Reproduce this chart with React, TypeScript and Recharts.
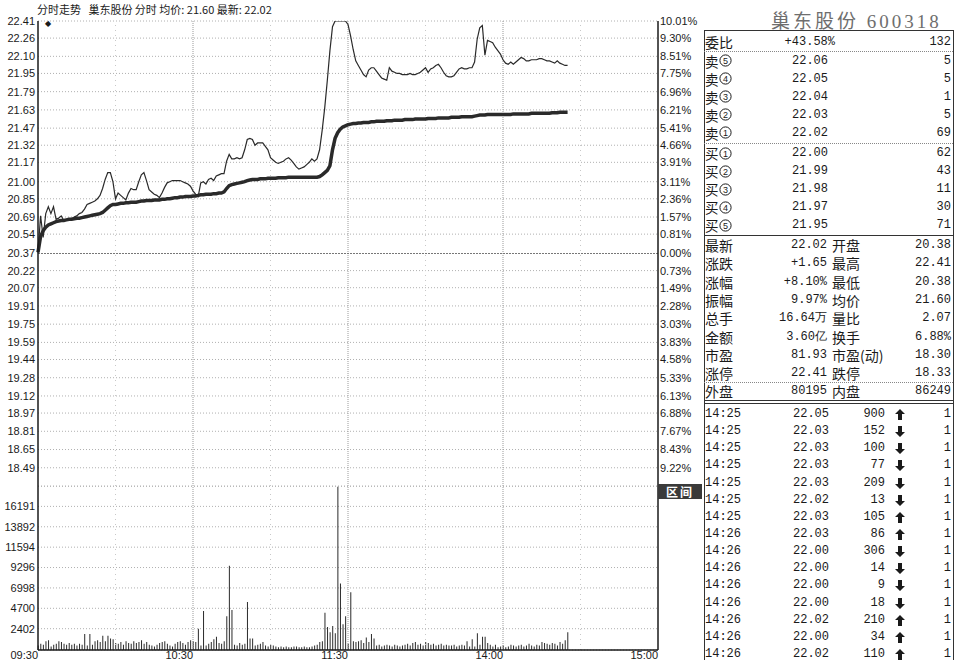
import React from "react";
import {
  ComposedChart,
  Line,
  Bar,
  XAxis,
  YAxis,
  CartesianGrid,
  ReferenceLine,
} from "recharts";

// price axis (left) and the matching percent labels (right)
const priceTicks = [
  22.41, 22.26, 22.1, 21.95, 21.79, 21.63, 21.47, 21.32, 21.17, 21.0, 20.85,
  20.69, 20.54, 20.37, 20.22, 20.07, 19.91, 19.75, 19.59, 19.44, 19.28, 19.12,
  18.97, 18.81, 18.65, 18.49,
];
const pctLabels = [
  "10.01%", "9.30%", "8.51%", "7.75%", "6.96%", "6.21%", "5.41%", "4.66%",
  "3.91%", "3.11%", "2.36%", "1.57%", "0.81%", "0.00%", "0.73%", "1.49%",
  "2.28%", "3.03%", "3.83%", "4.58%", "5.33%", "6.13%", "6.88%", "7.67%",
  "8.43%", "9.22%",
];
const volTicks = [2402, 4700, 6998, 9296, 11594, 13892, 16191];
const timeTicks = [0, 60, 120, 180, 240];
const timeLabels = ["09:30", "10:30", "11:30", "14:00", "15:00"];
const minorTimes = [30, 90, 150, 210];
const majorTimes = [60, 120, 180];

// one value per minute from 09:30
const price = [
  20.38, 20.70, 20.51, 20.72, 20.78, 20.72, 20.78, 20.67, 20.68, 20.70,
  20.66, 20.66, 20.66, 20.67, 20.69, 20.70, 20.72, 20.73, 20.76, 20.80,
  20.81, 20.82, 20.83, 20.85, 20.88, 20.94, 21.02, 21.08, 21.08, 21.00,
  20.85, 20.90, 20.88, 20.86, 20.84, 20.90, 20.94, 20.93, 20.93, 21.00,
  21.06, 21.08, 21.01, 20.93, 20.91, 20.89, 20.88, 20.86, 20.90, 20.95,
  20.99, 21.00, 21.01, 21.01, 21.01, 21.01, 21.00, 20.99, 20.98, 20.96,
  20.92, 20.89, 20.87, 20.99, 21.00, 20.98, 21.02, 21.03, 21.01, 21.05,
  21.06, 21.07, 21.07, 21.18, 21.24, 21.20, 21.20, 21.21, 21.20, 21.21,
  21.28, 21.37, 21.38, 21.37, 21.32, 21.34, 21.34, 21.34, 21.31, 21.28,
  21.21, 21.19, 21.17, 21.16, 21.17, 21.18, 21.20, 21.21, 21.19, 21.16,
  21.13, 21.11, 21.12, 21.13, 21.15, 21.17, 21.20, 21.18, 21.20, 21.28,
  21.45, 21.65, 21.89, 22.15, 22.36, 22.41, 22.41, 22.41, 22.41, 22.41,
  22.38, 22.28, 22.16, 22.06, 22.02, 21.98, 21.94, 21.92, 21.98, 22.00,
  22.00, 21.97, 21.94, 21.91, 21.90, 21.89, 22.00, 21.97, 21.96, 21.95,
  21.95, 21.94, 21.94, 21.94, 21.95, 21.94, 21.94, 21.95, 21.96, 21.98,
  22.00, 21.96, 21.99, 22.00, 22.02, 22.03, 22.00, 21.96, 21.93, 21.92,
  21.92, 21.93, 21.96, 21.99, 22.00, 21.99, 21.99, 22.00, 22.00, 22.05,
  22.25, 22.35, 22.37, 22.11, 22.24, 22.23, 22.22, 22.18, 22.15, 22.12,
  22.07, 22.04, 22.03, 22.05, 22.03, 22.05, 22.07, 22.09, 22.08, 22.06,
  22.06, 22.07, 22.07, 22.07, 22.08, 22.08, 22.07, 22.06, 22.06, 22.05,
  22.04, 22.06, 22.04, 22.03, 22.02, 22.02,
];

const avgPrice = [
  20.38, 20.52, 20.57, 20.60, 20.62, 20.63, 20.64, 20.65, 20.655, 20.66,
  20.66, 20.665, 20.67, 20.67, 20.675, 20.68, 20.68, 20.685, 20.69, 20.695,
  20.70, 20.705, 20.71, 20.715, 20.72, 20.73, 20.75, 20.77, 20.79, 20.80,
  20.80, 20.805, 20.81, 20.81, 20.815, 20.815, 20.82, 20.82, 20.82, 20.825,
  20.83, 20.83, 20.835, 20.835, 20.835, 20.84, 20.84, 20.84, 20.845, 20.845,
  20.85, 20.85, 20.855, 20.86, 20.86, 20.865, 20.865, 20.87, 20.87, 20.87,
  20.875, 20.875, 20.88, 20.885, 20.885, 20.89, 20.89, 20.89, 20.895, 20.895,
  20.90, 20.90, 20.91, 20.94, 20.965, 20.975, 20.98, 20.985, 20.99, 20.995,
  21.00, 21.01, 21.015, 21.02, 21.02, 21.02, 21.025, 21.025, 21.025, 21.03,
  21.03, 21.03, 21.03, 21.035, 21.035, 21.035, 21.035, 21.04, 21.04, 21.04,
  21.04, 21.04, 21.04, 21.04, 21.04, 21.04, 21.04, 21.04, 21.04, 21.045,
  21.06, 21.08, 21.10, 21.14, 21.28, 21.38, 21.43, 21.46, 21.48, 21.49,
  21.50, 21.505, 21.51, 21.51, 21.515, 21.515, 21.52, 21.52, 21.52, 21.525,
  21.525, 21.53, 21.53, 21.53, 21.53, 21.535, 21.535, 21.535, 21.54, 21.54,
  21.54, 21.54, 21.545, 21.545, 21.545, 21.545, 21.55, 21.55, 21.55, 21.55,
  21.55, 21.555, 21.555, 21.555, 21.555, 21.56, 21.56, 21.56, 21.56, 21.56,
  21.565, 21.565, 21.565, 21.565, 21.57, 21.57, 21.57, 21.57, 21.57, 21.575,
  21.58, 21.585, 21.585, 21.585, 21.59, 21.59, 21.59, 21.59, 21.59, 21.59,
  21.59, 21.59, 21.59, 21.59, 21.595, 21.595, 21.595, 21.595, 21.595, 21.595,
  21.595, 21.60, 21.60, 21.60, 21.60, 21.60, 21.60, 21.60, 21.60, 21.605,
  21.605, 21.605, 21.61, 21.61, 21.61, 21.61,
];

const volume = [
  500, 700, 600, 1000, 1100, 400, 600, 700, 1000, 900,
  700, 600, 800, 600, 700, 500, 700, 600, 1800, 500,
  1800, 600, 1000, 1100, 900, 1600, 1000, 1600, 1300, 1200,
  800, 700, 900, 600, 1000, 800, 700, 1000, 800, 900,
  1100, 700, 900, 600, 500, 400, 600, 800, 900, 1000,
  700, 500, 400, 700, 900, 1000, 800, 600, 900, 1100,
  1000, 900, 2400, 500, 4400, 500, 700, 900, 1200, 1500,
  800, 700, 1000, 3800, 9500, 4500, 600, 500, 800, 600,
  700, 5400, 1300, 1300, 500, 600, 700, 900, 500, 400,
  600, 500, 400, 300, 400, 300, 400, 300, 300, 400,
  400, 300, 300, 400, 300, 300, 400, 500, 600, 900,
  1000, 4200, 2600, 2000, 2700, 1900, 18400, 7500, 2900, 3800,
  700, 6500, 1000, 900, 1000, 1100, 800, 1400, 900, 1800,
  1300, 500, 600, 400, 500, 600, 500, 400, 600, 500,
  400, 500, 600, 700, 500, 800, 900, 600, 700, 500,
  900, 800, 600, 700, 500, 600, 700, 500, 600, 500,
  500, 600, 400, 500, 600, 500, 1000, 400, 1200, 400,
  1900, 600, 1500, 1500, 800, 600, 400, 600, 300, 400,
  500, 300, 400, 600, 500, 400, 500, 600, 400, 500,
  700, 500, 400, 600, 500, 900, 800, 700, 600, 800,
  700, 500, 900, 700, 1100, 2000,
];

// order book / quote panel
const askSide = "卖";
const bidSide = "买";
const askLevels = [5, 4, 3, 2, 1];
const askPrices = ["22.06", "22.05", "22.04", "22.03", "22.02"];
const askVols = ["5", "5", "1", "5", "69"];
const bidLevels = [1, 2, 3, 4, 5];
const bidPrices = ["22.00", "21.99", "21.98", "21.97", "21.95"];
const bidVols = ["62", "43", "11", "30", "71"];
const statRows = [
  ["最新", "22.02", "开盘", "20.38"],
  ["涨跌", "+1.65", "最高", "22.41"],
  ["涨幅", "+8.10%", "最低", "20.38"],
  ["振幅", "9.97%", "均价", "21.60"],
  ["总手", "16.64万", "量比", "2.07"],
  ["金额", "3.60亿", "换手", "6.88%"],
  ["市盈", "81.93", "市盈(动)", "18.30"],
  ["涨停", "22.41", "跌停", "18.33"],
  ["外盘", "80195", "内盘", "86249"],
];
const tradeTimes = [
  "14:25", "14:25", "14:25", "14:25", "14:25", "14:25", "14:25", "14:26",
  "14:26", "14:26", "14:26", "14:26", "14:26", "14:26", "14:26",
];
const tradePrices = [
  "22.05", "22.03", "22.03", "22.03", "22.03", "22.02", "22.03", "22.03",
  "22.00", "22.00", "22.00", "22.00", "22.02", "22.00", "22.02",
];
const tradeVols = [
  "900", "152", "100", "77", "209", "13", "105", "86", "306", "14", "9", "18",
  "210", "34", "110",
];
const tradeUp = [
  true, false, false, false, false, false, true, true, false, false, false,
  false, true, true, true,
];

const data = Array.from({ length: 241 }, (_, i) => ({
  t: i,
  price: i < price.length ? price[i] : null,
  avg: i < avgPrice.length ? avgPrice[i] : null,
  vol: i < volume.length ? volume[i] : null,
}));

const SANS = "'Liberation Sans', Arial, sans-serif";
const MONO = "'Liberation Mono', 'DejaVu Sans Mono', monospace";
const CJK = "'Noto Sans CJK SC', 'Noto Sans', sans-serif";
const INK = "#1a1a1a";

const axisTick = { fontSize: 11, fill: INK, fontFamily: SANS };

function TimeTick(props: any) {
  const { x, y, payload } = props;
  return (
    <text
      x={x}
      y={y + 9}
      textAnchor="end"
      fontSize={11}
      fill={INK}
      fontFamily={SANS}
    >
      {timeLabels[timeTicks.indexOf(payload.value)]}
    </text>
  );
}

function T({
  x,
  y,
  right,
  mono,
  size,
  children,
}: {
  x: number;
  y: number;
  right?: boolean;
  mono?: boolean;
  size?: number;
  children: React.ReactNode;
}) {
  const style: React.CSSProperties = {
    position: "absolute",
    top: y - 8,
    height: 16,
    lineHeight: "16px",
    whiteSpace: "nowrap",
    fontSize: size ?? (mono ? 12 : 13),
    fontFamily: mono ? MONO : CJK,
    color: INK,
  };
  if (right) style.right = 956 - x;
  else style.left = x;
  return <div style={style}>{children}</div>;
}

// side label like 卖⑤ : the circled level drawn as a small svg badge
function Level({ y, side, n }: { y: number; side: string; n: number }) {
  return (
    <>
      <T x={705} y={y} size={13.5}>
        {side}
      </T>
      <svg
        width={13}
        height={13}
        style={{ position: "absolute", left: 719, top: y - 6.5 }}
      >
        <circle cx={6.5} cy={6.5} r={5.6} fill="none" stroke={INK} strokeWidth={1} />
        <text
          x={6.5}
          y={9.8}
          textAnchor="middle"
          fontSize={9}
          fontFamily={SANS}
          fill={INK}
        >
          {n}
        </text>
      </svg>
    </>
  );
}

function HLine({ y, dotted, h }: { y: number; dotted?: boolean; h?: number }) {
  return (
    <div
      style={{
        position: "absolute",
        left: 704,
        width: 249,
        top: y,
        height: 0,
        borderTop: `${h ?? 1}px ${dotted ? "dotted" : "solid"} ${dotted ? "#888" : "#333"}`,
      }}
    />
  );
}

function Arrow({ x, y, up }: { x: number; y: number; up: boolean }) {
  return (
    <svg
      width={10}
      height={11}
      style={{ position: "absolute", left: x - 5, top: y - 5 }}
    >
      <polygon
        points={
          up
            ? "5,0 10,5 7,5 7,11 3,11 3,5 0,5"
            : "5,11 10,6 7,6 7,0 3,0 3,6 0,6"
        }
        fill={INK}
      />
    </svg>
  );
}

function QuotePanel() {
  const tradeY = (k: number) => 414 + k * 17.14;
  const askY = (k: number) => 60.5 + k * 18.1;
  const bidY = (k: number) => 153 + k * 18.1;
  return (
    <>
      <div
        style={{
          position: "absolute",
          left: 771,
          top: 6,
          fontSize: 19,
          letterSpacing: 3,
          color: "#6e6e6e",
          fontFamily: "'Liberation Serif', 'Noto Sans CJK SC', serif",
          whiteSpace: "nowrap",
        }}
      >
        巢东股份 600318
      </div>
      <div
        style={{
          position: "absolute",
          left: 704,
          top: 30,
          width: 248,
          height: 640,
          borderLeft: "1px solid #333",
          borderRight: "1px solid #333",
          borderTop: "1px solid #333",
        }}
      />
      <T x={705} y={42} size={14}>委比</T>
      <T x={835} y={42} right mono>+43.58%</T>
      <T x={951} y={42} right mono>132</T>
      <HLine y={51} dotted />
      {askLevels.map((n, k) => (
        <React.Fragment key={"a" + n}>
          <Level y={askY(k)} side={askSide} n={n} />
          <T x={828} y={askY(k)} right mono>{askPrices[k]}</T>
          <T x={951} y={askY(k)} right mono>{askVols[k]}</T>
        </React.Fragment>
      ))}
      <HLine y={143} dotted />
      {bidLevels.map((n, k) => (
        <React.Fragment key={"b" + n}>
          <Level y={bidY(k)} side={bidSide} n={n} />
          <T x={828} y={bidY(k)} right mono>{bidPrices[k]}</T>
          <T x={951} y={bidY(k)} right mono>{bidVols[k]}</T>
        </React.Fragment>
      ))}
      <HLine y={235} />
      {statRows.map((r, k) => {
        const y = 245 + k * 18.3;
        return (
          <React.Fragment key={r[0]}>
            <T x={705} y={y} size={14}>{r[0]}</T>
            <T x={827} y={y} right mono>
              {r[1]}
            </T>
            <T x={832} y={y} size={14}>{r[2]}</T>
            <T x={951} y={y} right mono>{r[3]}</T>
          </React.Fragment>
        );
      })}
      <HLine y={382} dotted />
      <HLine y={400} h={1} />
      <HLine y={403} h={1} />
      {tradeTimes.map((t, k) => (
        <React.Fragment key={k}>
          <T x={705} y={tradeY(k)} mono>{t}</T>
          <T x={829} y={tradeY(k)} right mono>{tradePrices[k]}</T>
          <T x={885} y={tradeY(k)} right mono>{tradeVols[k]}</T>
          <Arrow x={900} y={tradeY(k)} up={tradeUp[k]} />
          <T x={951} y={tradeY(k)} right mono>1</T>
        </React.Fragment>
      ))}
    </>
  );
}

export default function App() {
  return (
    <div
      style={{
        position: "absolute",
        left: 0,
        top: 0,
        width: 956,
        height: 660,
        overflow: "hidden",
        background: "#fff",
      }}
    >
      <div
        style={{
          position: "absolute",
          left: 37,
          top: 3,
          fontSize: 11,
          fontFamily: CJK,
          color: INK,
          whiteSpace: "nowrap",
          lineHeight: "13px",
        }}
      >
        分时走势&nbsp;&nbsp;&nbsp;巢东股份 分时 均价: 21.60 最新: 22.02
      </div>
      <div
        style={{
          position: "absolute",
          left: 45,
          top: 19,
          fontSize: 8,
          lineHeight: "9px",
          color: INK,
          fontFamily: "'DejaVu Sans', sans-serif",
        }}
      >
        ◆
      </div>

      <div style={{ position: "absolute", left: 0, top: 0 }}>
        <ComposedChart
          width={700}
          height={487}
          data={data}
          margin={{ top: 21, right: 0, left: 0, bottom: 1 }}
        >
          <CartesianGrid
            yAxisId="l"
            vertical={false}
            stroke="#b0b0b0"
            strokeDasharray="1 2"
          />
          <XAxis dataKey="t" type="number" domain={[0, 240]} hide />
          <YAxis
            yAxisId="l"
            width={38}
            domain={[18.33, 22.41]}
            allowDataOverflow
            ticks={priceTicks}
            interval={0}
            tickSize={0}
            tickMargin={3}
            tickFormatter={(v: number) => v.toFixed(2)}
            tick={axisTick}
            axisLine={{ stroke: INK, strokeWidth: 1.5 }}
            tickLine={false}
          />
          <YAxis
            yAxisId="r"
            orientation="right"
            width={42}
            domain={[18.33, 22.41]}
            allowDataOverflow
            ticks={priceTicks}
            interval={0}
            tickSize={0}
            tickMargin={2}
            tickFormatter={(v: number) => pctLabels[priceTicks.indexOf(v)]}
            tick={{ ...axisTick, textAnchor: "start" }}
            axisLine={{ stroke: INK, strokeWidth: 1.5 }}
            tickLine={false}
          />
          {minorTimes.map((t) => (
            <ReferenceLine
              key={t}
              yAxisId="l"
              x={t}
              stroke="#c8c8c8"
              strokeDasharray="1 4"
            />
          ))}
          {majorTimes.map((t) => (
            <ReferenceLine
              key={t}
              yAxisId="l"
              x={t}
              stroke="#9a9a9a"
              strokeDasharray="1 1"
            />
          ))}
          <ReferenceLine
            yAxisId="l"
            y={20.37}
            stroke="#777"
            strokeDasharray="2 1"
          />
          <Line
            yAxisId="l"
            type="linear"
            dataKey="avg"
            stroke="#2a2a2a"
            strokeWidth={3.5}
            dot={false}
            isAnimationActive={false}
          />
          <Line
            yAxisId="l"
            type="linear"
            dataKey="price"
            stroke="#2a2a2a"
            strokeWidth={1.2}
            dot={false}
            isAnimationActive={false}
          />
        </ComposedChart>
      </div>

      <div style={{ position: "absolute", left: 0, top: 486 }}>
        <ComposedChart
          width={700}
          height={174}
          data={data}
          margin={{ top: 0, right: 0, left: 0, bottom: 0 }}
        >
          <CartesianGrid
            yAxisId="l"
            vertical={false}
            stroke="#b0b0b0"
            strokeDasharray="1 2"
          />
          <XAxis
            dataKey="t"
            type="number"
            domain={[0, 240]}
            ticks={timeTicks}
            interval={0}
            height={10}
            tickSize={0}
            tickMargin={0}
            tick={<TimeTick />}
            tickLine={false}
            axisLine={{ stroke: INK, strokeWidth: 1.5 }}
          />
          <YAxis
            yAxisId="l"
            width={38}
            domain={[0, 18489]}
            allowDataOverflow
            ticks={volTicks}
            interval={0}
            tickSize={0}
            tickMargin={3}
            tick={axisTick}
            axisLine={{ stroke: INK, strokeWidth: 1.5 }}
            tickLine={false}
          />
          <YAxis
            yAxisId="r"
            orientation="right"
            width={42}
            domain={[0, 18489]}
            tick={false}
            tickLine={false}
            axisLine={{ stroke: INK, strokeWidth: 1.5 }}
          />
          <ReferenceLine
            yAxisId="l"
            y={18489}
            stroke="#b0b0b0"
            strokeDasharray="1 2"
          />
          {minorTimes.map((t) => (
            <ReferenceLine
              key={t}
              yAxisId="l"
              x={t}
              stroke="#c8c8c8"
              strokeDasharray="1 4"
            />
          ))}
          {majorTimes.map((t) => (
            <ReferenceLine
              key={t}
              yAxisId="l"
              x={t}
              stroke="#9a9a9a"
              strokeDasharray="1 1"
            />
          ))}
          <Bar
            yAxisId="l"
            dataKey="vol"
            fill="#2a2a2a"
            barSize={1}
            isAnimationActive={false}
          />
        </ComposedChart>
      </div>

      <div
        style={{
          position: "absolute",
          left: 658,
          top: 484,
          width: 44,
          height: 15,
          background: "#3a3a3a",
          color: "#fff",
          fontSize: 12,
          lineHeight: "15px",
          textAlign: "center",
          fontFamily: CJK,
          fontWeight: 700,
          letterSpacing: 2,
        }}
      >
        区间
      </div>

      <QuotePanel />
    </div>
  );
}
